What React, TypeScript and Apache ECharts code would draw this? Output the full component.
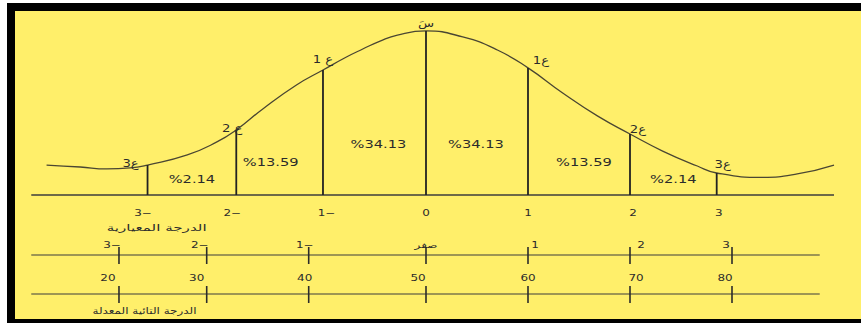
import React, { useEffect, useRef } from "react";
import * as echarts from "echarts";

// ---- Data ----
// Bell curve (x in drawing σ-units, y in relative height; peak ≈ 100)
const curveX = [-3.72, -3.39, -3.13, -2.9, -2.73, -2.34, -2.05, -1.86, -1.6, -1.27, -1.01, -0.78, -0.62, -0.45, -0.28, 0, 0.36, 0.7, 1.0, 1.34, 1.68, 2.0, 2.32, 2.66, 2.85, 3.3, 3.64, 4.0];
const curveY = [18.4, 17.2, 16.0, 16.6, 18.4, 24.6, 32.6, 40.0, 52.9, 67.6, 76.8, 84.8, 89.7, 94.6, 98.3, 100.8, 97.1, 89.1, 78.1, 62.7, 48.6, 37.5, 27.0, 17.8, 13.5, 10.8, 12.9, 18.4];

// σ-lines under the curve
const sigmaPos = [-2.73, -1.86, -1.01, 0, 1.0, 2.0, 2.85];
const sigmaMarks = ["3ع", "2 ع", "1 ع", "سَ", "1ع", "2ع", "3ع"];
const zLabels = ["3−", "2−", "1−", "0", "1", "2", "3"];
const areaPercents = [2.14, 13.59, 34.13, 34.13, 13.59, 2.14];

// Rulers below
const rulerTickPos = [-3.01, -2.15, -1.15, 0, 1.0, 2.0, 3.0];
const standardScoreLabels = ["3−", "2−", "1−", "صفر", "1", "2", "3"];
const tScoreLabels = ["20", "30", "40", "50", "60", "70", "80"];
const standardAxisTitle = "الدرجة المعيارية";
const tAxisTitle = "الدرجة التائية المعدلة";

// ---- Layout / style constants ----
const RULER1_Y = -36.9;
const RULER2_Y = -60.85;
const LINE_FROM = -3.87;
const BASE_TO = 4.0;
const RULER_TO = 3.86;
const INK = "#2b2b2b";
const FONT = "DejaVu Sans";

const markNudge = [[-17, -2], [-4, -2], [0, -11], [0, -8], [13, -8], [8, -5], [6, -9]];
const zNudge = [-4.5, -4, 3.5, 0, 0, 3, 2];
const areaLevel = [9.8, 20.3, 31.3];
const areaNudge = [0, -9, 4, -1, 5, 0];
const r1Nudge = [-7, -7, -4, 0, 7, 11, -6];
const r2Nudge = [-11, -10, -4, -8, 0, 6, -7];

function textSeries(
  points: number[][],
  texts: string[],
  o: { size: number; sx: number | number[]; dx: number[] | number; dy: number[] | number; family?: string; color?: string }
) {
  return {
    type: "custom",
    coordinateSystem: "cartesian2d",
    silent: true,
    z: 6,
    data: points,
    renderItem: (params: any, api: any) => {
      const i = params.dataIndex;
      const p = api.coord([api.value(0), api.value(1)]);
      const dx = Array.isArray(o.dx) ? o.dx[i] : o.dx;
      const dy = Array.isArray(o.dy) ? o.dy[i] : o.dy;
      const sx = Array.isArray(o.sx) ? o.sx[i] : o.sx;
      return {
        type: "text",
        x: p[0] + dx,
        y: p[1] + dy,
        scaleX: sx,
        style: {
          text: texts[i],
          fill: o.color || INK,
          fontSize: o.size,
          fontFamily: o.family || FONT,
          align: "center",
          verticalAlign: "middle",
        },
      };
    },
  };
}

export default function App() {
  const ref = useRef<HTMLDivElement>(null);
  useEffect(() => {
    if (!ref.current) return;
    const chart = echarts.init(ref.current, undefined, { renderer: "svg" });

    const sigmaTop = sigmaPos.map((p) => curveY[curveX.indexOf(p)]);
    const areaMid = areaPercents.map((_, i) => (sigmaPos[i] + sigmaPos[i + 1]) / 2);
    const areaH = areaPercents.map((_, i) => areaLevel[Math.min(i, 5 - i)]);

    const option: any = {
      animation: false,
      backgroundColor: "#ffffff",
      grid: { left: 18, right: 27, top: 16, bottom: 6 },
      xAxis: { type: "value", min: -4, max: 4, show: false },
      yAxis: { type: "value", min: -75, max: 110, show: false },
      graphic: [
        { type: "rect", z: 0, shape: { x: 7, y: 3, width: 854, height: 320 }, style: { fill: "#000" } },
        { type: "rect", z: 1, shape: { x: 15, y: 11, width: 846, height: 308 }, style: { fill: "#FFEF6A" } },
      ],
      series: [
        {
          type: "line",
          data: curveX.map((x, i) => [x, curveY[i]]),
          smooth: 0.5,
          showSymbol: false,
          symbol: "none",
          z: 4,
          lineStyle: { color: "#4a4632", width: 1.3 },
        },
        {
          type: "line",
          data: [[LINE_FROM, 0], [BASE_TO, 0]],
          symbol: "none",
          z: 3,
          lineStyle: { color: "#3d3d3d", width: 1.4 },
        },
        {
          type: "line",
          data: [[LINE_FROM, RULER1_Y], [RULER_TO, RULER1_Y]],
          symbol: "none",
          z: 3,
          lineStyle: { color: "#3d3d3d", width: 1.2 },
        },
        {
          type: "line",
          data: [[LINE_FROM, RULER2_Y], [RULER_TO, RULER2_Y]],
          symbol: "none",
          z: 3,
          lineStyle: { color: "#3d3d3d", width: 1.2 },
        },
        // σ vertical lines
        {
          type: "custom",
          coordinateSystem: "cartesian2d",
          silent: true,
          z: 5,
          data: sigmaPos.map((p, i) => [p, sigmaTop[i]]),
          renderItem: (params: any, api: any) => {
            const a = api.coord([api.value(0), 0]);
            const b = api.coord([api.value(0), api.value(1)]);
            return {
              type: "line",
              shape: { x1: a[0], y1: a[1], x2: b[0], y2: b[1] },
              style: { stroke: "#222", lineWidth: 1.8 },
            };
          },
        },
        // ruler ticks
        {
          type: "custom",
          coordinateSystem: "cartesian2d",
          silent: true,
          z: 5,
          data: [
            ...rulerTickPos.map((p) => [p, RULER1_Y]),
            ...rulerTickPos.map((p) => [p, RULER2_Y]),
          ],
          renderItem: (params: any, api: any) => {
            const c = api.coord([api.value(0), api.value(1)]);
            return {
              type: "line",
              shape: { x1: c[0], y1: c[1] - 8, x2: c[0], y2: c[1] + 9 },
              style: { stroke: "#2b2b2b", lineWidth: 1.6 },
            };
          },
        },
        textSeries(sigmaPos.map((p, i) => [p, sigmaTop[i]]), sigmaMarks, {
          size: 11, sx: 1.2,
          dx: markNudge.map((n) => n[0]), dy: markNudge.map((n) => n[1]),
        }),
        textSeries(sigmaPos.map((p) => [p, 0]), zLabels, { size: 9, sx: 1.33, dx: zNudge, dy: 18 }),
        textSeries(areaMid.map((m, i) => [m, areaH[i]]), areaPercents.map((v) => "%" + v.toFixed(2)), {
          size: 11, sx: 1.33, dx: areaNudge, dy: 0,
        }),
        textSeries(rulerTickPos.map((p) => [p, RULER1_Y]), standardScoreLabels, { size: 9, sx: 1.33, dx: r1Nudge, dy: -10 }),
        textSeries(rulerTickPos.map((p) => [p, RULER2_Y]), tScoreLabels, { size: 9, sx: 1.33, dx: r2Nudge, dy: -16 }),
        textSeries([[-2.64, -20.3], [-2.76, -71.3]], [standardAxisTitle, tAxisTitle], { size: 9, sx: [1.68, 1.33], dx: 0, dy: 0 }),
      ],
    };
    chart.setOption(option);
    return () => chart.dispose();
  }, []);

  return (
    <div
      ref={ref}
      style={{ position: "fixed", left: 0, top: 0, width: 861, height: 323 }}
    />
  );
}
